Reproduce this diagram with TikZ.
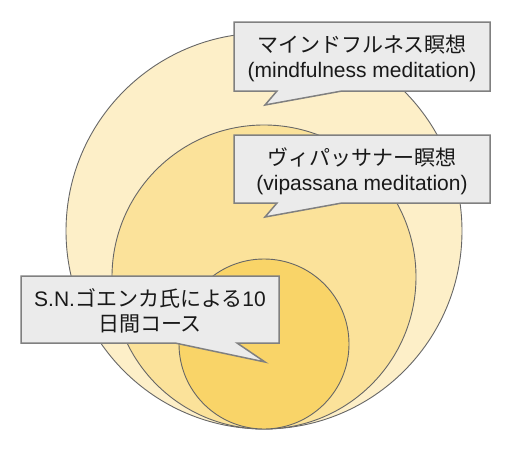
\documentclass[tikz,border=0pt]{standalone}
\usepackage{fontspec}
\setmainfont{Liberation Sans}
\newfontfamily\jp{Noto Sans CJK JP}
\definecolor{outerfill}{HTML}{FDEFC8}
\definecolor{middlefill}{HTML}{FBE29A}
\definecolor{innerfill}{HTML}{F9D468}
\definecolor{ringline}{HTML}{666666}
\definecolor{bubblefill}{HTML}{EBEBEB}
\definecolor{bubbleline}{HTML}{808080}
\tikzset{
  ring/.style={draw=ringline, line width=0.9pt},
  bubble/.style={fill=bubblefill, draw=bubbleline, line width=1.5pt, line join=miter},
  bubbletext/.style={align=center, text=black!90, font=\fontsize{21}{25}\selectfont}
}
\begin{document}
\begin{tikzpicture}[x=1pt, y=-1pt]
  \useasboundingbox (0,0) rectangle (523,450);
  % nested circles, all touching at the bottom
  \draw[ring, fill=outerfill] (264,231) circle (198);
  \draw[ring, fill=middlefill] (264,277) circle (152);
  \draw[ring, fill=innerfill] (264,344) circle (85);
  % callouts: box with a pointer into the circle
  \draw[bubble] (234,22) -- (490,22) -- (490,91) -- (342,91) -- (265,105) -- (277,91) -- (234,91) -- cycle;
  \node[bubbletext] (mindful) at (362,58) {{\jp マインドフルネス瞑想}\\(mindfulness meditation)};
  \draw[bubble] (234,135) -- (490,135) -- (490,203) -- (342,203) -- (265,217) -- (277,203) -- (234,203) -- cycle;
  \node[bubbletext] (vipassana) at (362,171) {{\jp ヴィパッサナー瞑想}\\(vipassana meditation)};
  \draw[bubble] (21,276) -- (279,276) -- (279,343) -- (237,343) -- (265,362) -- (175,343) -- (21,343) -- cycle;
  \node[bubbletext] (course) at (150,311) {S.N.{\jp ゴエンカ氏による}10\\{\jp 日間コース}};
\end{tikzpicture}
\end{document}
